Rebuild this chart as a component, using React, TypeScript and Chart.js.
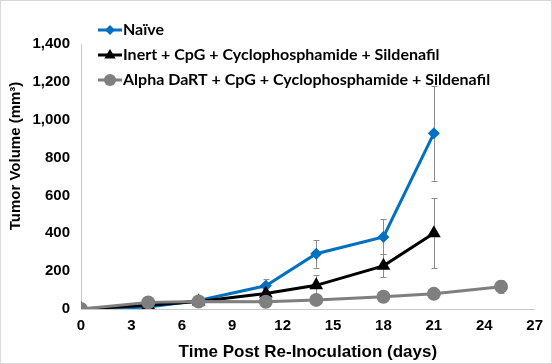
import React, { useEffect, useRef } from 'react';
import { Chart, registerables } from 'chart.js';

Chart.register(...registerables);

const naiveDays = [0, 4, 7, 11, 14, 18, 21];
const naiveValues = [0, 10, 45, 123, 292, 381, 928];
const naiveErrors = [0, 3, 5, 35, 73, 92, 250];

const inertDays = [0, 4, 7, 11, 14, 18, 21];
const inertValues = [0, 20, 40, 82, 125, 228, 400];
const inertErrors = [0, 3, 5, 15, 55, 60, 185];

const alphaDays = [0, 4, 7, 11, 14, 18, 21, 25];
const alphaValues = [0, 35, 40, 38, 48, 65, 80, 118];
const alphaErrors = [0, 5, 5, 5, 8, 10, 12, 35];

const seriesLabels = [
  'Naïve',
  'Inert + CpG + Cyclophosphamide + Sildenafil',
  'Alpha DaRT + CpG + Cyclophosphamide + Sildenafil',
];
const seriesColors = ['#0070C0', '#000000', '#7F7F7F'];
const seriesMarkers = ['rectRot', 'triangle', 'circle'];

const xMin = 0;
const xMax = 27;
const xStep = 3;
const yMin = 0;
const yMax = 1400;
const yStep = 200;

const xTitle = 'Time Post Re-Inoculation (days)';
const yTitle = 'Tumor Volume (mm³)';

const allErrors = [naiveErrors, inertErrors, alphaErrors];

function drawMarker(ctx: CanvasRenderingContext2D, style: string, x: number, y: number, r: number, color: string) {
  ctx.save();
  ctx.fillStyle = color;
  ctx.beginPath();
  if (style === 'rectRot') {
    ctx.moveTo(x, y - r);
    ctx.lineTo(x + r, y);
    ctx.lineTo(x, y + r);
    ctx.lineTo(x - r, y);
    ctx.closePath();
  } else if (style === 'triangle') {
    ctx.moveTo(x, y - r);
    ctx.lineTo(x + r * 0.95, y + r * 0.6);
    ctx.lineTo(x - r * 0.95, y + r * 0.6);
    ctx.closePath();
  } else {
    ctx.arc(x, y, r, 0, Math.PI * 2);
  }
  ctx.fill();
  ctx.restore();
}

const errorBarPlugin = {
  id: 'errorBars',
  beforeDatasetsDraw(chart: any) {
    const ctx = chart.ctx;
    const yScale = chart.scales.y;
    ctx.save();
    ctx.strokeStyle = '#8C8C8C';
    ctx.lineWidth = 1;
    chart.data.datasets.forEach((ds: any, i: number) => {
      const meta = chart.getDatasetMeta(i);
      const errs = allErrors[i];
      meta.data.forEach((pt: any, j: number) => {
        const e = errs[j];
        if (!e) return;
        const v = ds.data[j].y;
        const yTop = yScale.getPixelForValue(v + e);
        const yBot = yScale.getPixelForValue(Math.max(0, v - e));
        const x = Math.round(pt.x) + 0.5;
        ctx.beginPath();
        ctx.moveTo(x, yTop);
        ctx.lineTo(x, yBot);
        ctx.moveTo(x - 3, Math.round(yTop) + 0.5);
        ctx.lineTo(x + 3, Math.round(yTop) + 0.5);
        ctx.moveTo(x - 3, Math.round(yBot) + 0.5);
        ctx.lineTo(x + 3, Math.round(yBot) + 0.5);
        ctx.stroke();
      });
    });
    ctx.restore();
  },
};

const legendPlugin = {
  id: 'customLegend',
  afterDraw(chart: any) {
    const ctx = chart.ctx;
    ctx.save();
    const x0 = 97;
    const ys = [29, 54, 79];
    seriesLabels.forEach((label, i) => {
      const y = ys[i];
      ctx.strokeStyle = seriesColors[i];
      ctx.lineWidth = 3;
      ctx.beginPath();
      ctx.moveTo(x0, y);
      ctx.lineTo(x0 + 24, y);
      ctx.stroke();
      drawMarker(ctx, seriesMarkers[i], x0 + 12, y, i === 0 ? 5 : 6, seriesColors[i]);
      ctx.fillStyle = '#000000';
      ctx.font = 'bold 16px Lato, "Open Sans", sans-serif';
      ctx.textBaseline = 'middle';
      ctx.textAlign = 'left';
      ctx.fillText(label, x0 + 25, y);
    });
    // y-axis title
    ctx.translate(15, 155);
    ctx.rotate(-Math.PI / 2);
    ctx.font = 'bold 15px "Liberation Sans", Arial, sans-serif';
    ctx.textAlign = 'center';
    ctx.textBaseline = 'middle';
    ctx.fillText(yTitle, 0, 0);
    ctx.restore();
  },
};

export default function App() {
  const canvasRef = useRef<HTMLCanvasElement | null>(null);

  useEffect(() => {
    const canvas = canvasRef.current;
    if (!canvas) return;
    const mk = (days: number[], vals: number[]) => days.map((d, i) => ({ x: d, y: vals[i] }));
    const chart = new Chart(canvas, {
      type: 'line',
      data: {
        datasets: [
          {
            label: seriesLabels[0],
            data: mk(naiveDays, naiveValues),
            borderColor: seriesColors[0],
            backgroundColor: seriesColors[0],
            borderWidth: 3,
            pointStyle: 'rectRot',
            pointRadius: 6,
            pointBorderWidth: 0,
            order: 2,
          },
          {
            label: seriesLabels[1],
            data: mk(inertDays, inertValues),
            borderColor: seriesColors[1],
            backgroundColor: seriesColors[1],
            borderWidth: 3,
            pointStyle: 'triangle',
            pointRadius: 8,
            pointBorderWidth: 0,
            order: 1,
          },
          {
            label: seriesLabels[2],
            data: mk(alphaDays, alphaValues),
            borderColor: seriesColors[2],
            backgroundColor: seriesColors[2],
            borderWidth: 3,
            pointStyle: 'circle',
            pointRadius: 7,
            pointBorderWidth: 0,
            order: 0,
          },
        ],
      },
      options: {
        animation: false,
        responsive: false,
        maintainAspectRatio: false,
        layout: { padding: { top: 43, right: 15, left: 0, bottom: 0 } },
        plugins: {
          legend: { display: false },
          tooltip: { enabled: false },
        },
        scales: {
          x: {
            type: 'linear',
            min: xMin,
            max: xMax,
            ticks: {
              stepSize: xStep,
              color: '#000000',
              font: { family: '"Liberation Sans", Arial, sans-serif', size: 15, weight: 'bold' },
              padding: 8,
              maxRotation: 0,
            },
            grid: { display: false, drawTicks: false },
            border: { display: true, color: '#C8C8C8', width: 1 },
            title: {
              display: true,
              text: xTitle,
              color: '#000000',
              font: { family: '"Liberation Sans", Arial, sans-serif', size: 17, weight: 'bold' },
              padding: { top: 4, bottom: 0 },
            },
            afterFit(scale: any) {
              scale.height = 54;
            },
          },
          y: {
            type: 'linear',
            min: yMin,
            max: yMax,
            ticks: {
              stepSize: yStep,
              color: '#000000',
              font: { family: '"Liberation Sans", Arial, sans-serif', size: 15, weight: 'bold' },
              padding: 11,
              callback: (v: any) => Number(v).toLocaleString('en-US'),
            },
            grid: { display: false, drawTicks: false },
            border: { display: true, color: '#C8C8C8', width: 1 },
            title: { display: false },
            afterFit(scale: any) {
              scale.width = 80;
            },
          },
        },
      },
      plugins: [errorBarPlugin, legendPlugin],
    } as any);
    return () => chart.destroy();
  }, []);

  return (
    <div
      style={{
        position: 'fixed',
        left: 0,
        top: 0,
        width: 552,
        height: 364,
        boxSizing: 'border-box',
        border: '1px solid #D9D9D9',
        background: '#FFFFFF',
      }}
    >
      <canvas ref={canvasRef} width={550} height={362} style={{ display: 'block' }} />
    </div>
  );
}
